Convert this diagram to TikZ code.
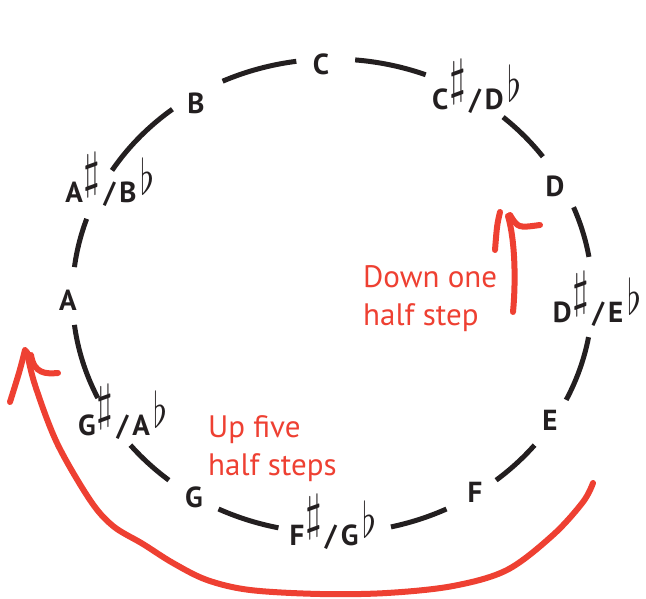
\documentclass[tikz,border=0pt]{standalone}
\usepackage{fontspec}
\setmainfont{PT Sans}
\usepackage{graphicx}
\definecolor{ink}{RGB}{35,31,32}
\definecolor{pen}{RGB}{238,64,50}
\newcommand\shp{\raisebox{15.5pt}{\scalebox{4.3}[5.0]{\fontsize{10}{12}\selectfont$\sharp$}}}
\newcommand\flt{\raisebox{8pt}{\scalebox{3.6}[4.9]{\fontsize{10}{12}\selectfont$\flat$}}}
\newcommand\pair[2]{#1\kern1pt\shp\kern3pt/\kern4pt#2\kern4pt\flt}
\tikzset{
  note/.style={inner sep=0pt, anchor=base, text=ink, font=\fontsize{29}{30}\selectfont\bfseries},
  ring/.style={draw=ink, line width=5pt},
  remark/.style={inner sep=0pt, anchor=base west, text=pen, align=left, font=\fontsize{31}{38}\selectfont},
  redline/.style={draw=pen, line width=6pt, line cap=round, line join=round},
}
\newcommand\seg[2]{\draw[ring] plot[domain=#1:#2, samples=40] ({332.5+260*cos(\x)}, {296-237*sin(\x)});}
\begin{document}
\begin{tikzpicture}[x=1pt, y=-1pt]
\useasboundingbox (0,0) rectangle (646,599);
% ring segments
\seg{98}{115}
\seg{69}{85}
\seg{36}{49}
\seg{9.5}{22}
\seg{-26}{-10}
\seg{-51}{-39}
\seg{-77}{-64}
\seg{-116}{-102}
\seg{-141}{-129}
\seg{-173}{-154.5}
\seg{161}{173}
\seg{128}{148}
% labels
\node[note] (nC)  at (321,75)  {C};
\node[note] (nCs) at (477,110) {\pair{C}{D}};
\node[note] (nD)  at (555,197) {D};
\node[note] (nDs) at (597,322) {\pair{D}{E}};
\node[note] (nE)  at (550,430) {E};
\node[note] (nF)  at (475,502) {F};
\node[note] (nFs) at (333,545) {\pair{F}{G}};
\node[note] (nG)  at (194,507) {G};
\node[note] (nGs) at (123,435) {\pair{G}{A}};
\node[note] (nA)  at (68,310)  {A};
\node[note] (nAs) at (110,203) {\pair{A}{B}};
\node[note] (nB)  at (196,114) {B};
% red remarks (base anchor = last line)
\node[remark] (tDown) at (363,325) {Down one\\half step};
\node[remark] (tUp) at (208,475) {Up five\\half steps};
% small arrow
\coordinate (sStart) at (513,312);
\coordinate (sTip) at (508,216);
\draw[redline] (sStart) .. controls (516,280) and (515,240) .. (sTip);
\coordinate (sL1) at (500,212);
\coordinate (sL2) at (495,250);
\draw[redline] (sL1) .. controls (497,225) .. (sL2);
\coordinate (sR1) at (510,215);
\coordinate (sR2) at (540,225);
\draw[redline] (sR1) .. controls (518,228) .. (sR2);
% big arrow
\coordinate (bStart) at (593,483);
\coordinate (bTip) at (27,352);
\draw[redline] plot[smooth, tension=0.55] coordinates {(593,483) (583,502) (553,535) (507,570) (453,586) (387,593) (320,594) (250,590) (207,580) (173,563) (143,544) (113,526) (90,500) (57,443) (35,385) (27,352)};
\coordinate (bL1) at (25,350);
\coordinate (bL2) at (10,402);
\draw[redline] (bL1) .. controls (20,370) .. (bL2);
\coordinate (bR1) at (31,355);
\coordinate (bR2) at (58,373);
\draw[redline] (bR1) .. controls (34,374) and (46,374) .. (bR2);
\end{tikzpicture}
\end{document}
